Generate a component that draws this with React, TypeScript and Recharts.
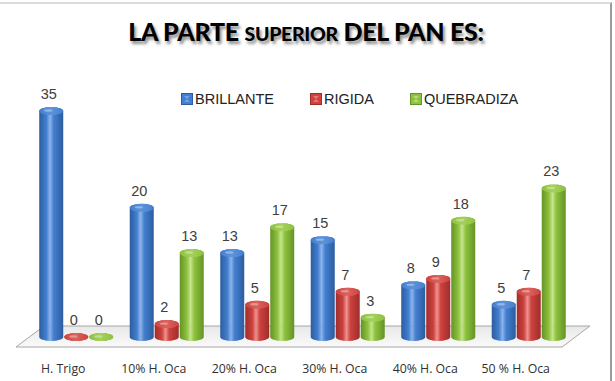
import React from 'react';
import { BarChart, Bar, XAxis, YAxis, LabelList, usePlotArea } from 'recharts';

// datos del gráfico
const categorias = ['H. Trigo', '10% H. Oca', '20% H. Oca', '30% H. Oca', '40% H. Oca', '50 % H. Oca'];
const brillante = [35, 20, 13, 15, 8, 5];
const rigida = [0, 2, 5, 7, 9, 7];
const quebradiza = [0, 13, 17, 3, 18, 23];

const data = categorias.map((c, i) => ({
  name: c,
  brillante: brillante[i],
  rigida: rigida[i],
  quebradiza: quebradiza[i],
}));

const series = [
  { key: 'brillante', name: 'BRILLANTE', id: 'b', dark: '#2c5c9f', mid: '#437fd0', light: '#80abe8', top: '#5e93da' },
  { key: 'rigida', name: 'RIGIDA', id: 'r', dark: '#9e2d2b', mid: '#cf423e', light: '#ea8783', top: '#db625e' },
  { key: 'quebradiza', name: 'QUEBRADIZA', id: 'g', dark: '#649326', mid: '#8ec23e', light: '#bfe282', top: '#a5d05c' },
];

const labelStyle = { fontFamily: 'Liberation Sans, Arial, sans-serif', fontSize: 14.5, fill: '#404040' };

function Cylinder(props: any) {
  const { x, y, width, height, gid } = props;
  const w = width - 1;
  const rx = w / 2;
  const ry = 4;
  const h = Math.max(height, 0);
  const cx = x + rx;
  const d = `M${x},${y} L${x},${y + h} A${rx},${ry} 0 0 0 ${x + w},${y + h} L${x + w},${y} A${rx},${ry} 0 0 0 ${x},${y} Z`;
  return (
    <g>
      <path d={d} fill={`url(#body-${gid})`} />
      <ellipse cx={cx} cy={y} rx={rx} ry={ry} fill={`url(#top-${gid})`} />
      <ellipse cx={cx - rx * 0.25} cy={y - 0.5} rx={rx * 0.35} ry={1.2} fill="#fff" opacity={0.35} />
    </g>
  );
}

function Floor() {
  const p = usePlotArea();
  if (!p) return null;
  const b = p.y + p.height;
  const pts = [
    [p.x - 16, b + 10],
    [p.x + p.width - 13, b + 10],
    [p.x + p.width + 15, b - 11],
    [p.x + 12, b - 11],
  ];
  return (
    <g>
      <defs>
        <linearGradient id="floor" x1="0" y1="0" x2="0" y2="1">
          <stop offset="0" stopColor="#e8e8e8" />
          <stop offset="1" stopColor="#fafafa" />
        </linearGradient>
      </defs>
      <polygon points={pts.map((q) => q.join(',')).join(' ')} fill="url(#floor)" stroke="#a6a6a6" strokeWidth={1} />
    </g>
  );
}

function Gradients() {
  return (
    <defs>
      {series.map((s) => (
        <React.Fragment key={s.id}>
          <linearGradient id={`body-${s.id}`} x1="0" y1="0" x2="1" y2="0">
            <stop offset="0" stopColor={s.dark} />
            <stop offset="0.3" stopColor={s.mid} />
            <stop offset="0.45" stopColor={s.light} stopOpacity={0.9} />
            <stop offset="0.6" stopColor={s.mid} />
            <stop offset="1" stopColor={s.dark} />
          </linearGradient>
          <linearGradient id={`top-${s.id}`} x1="0" y1="0" x2="1" y2="0">
            <stop offset="0" stopColor={s.mid} />
            <stop offset="0.5" stopColor={s.top} />
            <stop offset="1" stopColor={s.mid} />
          </linearGradient>
        </React.Fragment>
      ))}
    </defs>
  );
}

function Tick(props: any) {
  const { x, y, payload } = props;
  return (
    <text x={x - 14} y={y + 28} textAnchor="middle" fontFamily="Open Sans, sans-serif" fontSize={12.3} fill="#303030">
      {payload.value}
    </text>
  );
}

function LegendBox() {
  return (
    <div style={{ display: 'flex', alignItems: 'center', fontFamily: 'Liberation Sans, Arial, sans-serif', fontSize: 14.5, color: '#222' }}>
      {series.map((s, i) => (
        <div key={s.id} style={{ display: 'flex', alignItems: 'center', marginRight: i < 2 ? 36 : 0 }}>
          <svg width={12} height={12} style={{ marginRight: 2 }}>
            <rect x={0.5} y={0.5} width={11} height={11} fill={s.mid} stroke={s.dark} />
            <polygon points="3,3 9,3 6,6 9,9 3,9 6,6" fill={s.light} opacity={0.8} />
          </svg>
          <span>{s.name}</span>
        </div>
      ))}
    </div>
  );
}

export default function App() {
  return (
    <div style={{ position: 'absolute', left: 0, top: 0, width: 615, height: 381, background: '#fff', overflow: 'hidden' }}>
      <div style={{ position: 'absolute', left: 0, top: 2, width: 610, height: 400, borderTop: '2px solid #dadada', borderRight: '2px solid #9c9c9c' }} />
      <div
        style={{
          position: 'absolute', left: 0, top: 16, width: 612, textAlign: 'center',
          fontFamily: 'Lato, sans-serif', fontWeight: 900, fontSize: 25, color: '#000',
          textShadow: '2px 3px 3px rgba(0,0,0,0.45)', letterSpacing: -0.3,
        }}
      >
        LA PARTE <span style={{ fontSize: 19.5 }}>SUPERIOR</span> DEL PAN ES:
      </div>
      <div style={{ position: 'absolute', left: 181, top: 91 }}>
        <LegendBox />
      </div>
      <BarChart
        width={615}
        height={381}
        data={data}
        margin={{ top: 111, right: 40, left: 32, bottom: 14 }}
        barCategoryGap="8%"
        barGap={0}
        style={{ position: 'absolute', left: 0, top: 0 }}
      >
        <Gradients />
        <Floor />
        <XAxis dataKey="name" axisLine={false} tickLine={false} height={30} tick={<Tick />} interval={0} />
        <YAxis hide domain={[0, 35]} />
        {series.map((s) => (
          <Bar key={s.key} dataKey={s.key} name={s.name} fill={s.mid} isAnimationActive={false} shape={(p: any) => <Cylinder {...p} gid={s.id} />}>
            <LabelList dataKey={s.key} position="top" offset={12} dx={-3} style={labelStyle} />
          </Bar>
        ))}
      </BarChart>
    </div>
  );
}
